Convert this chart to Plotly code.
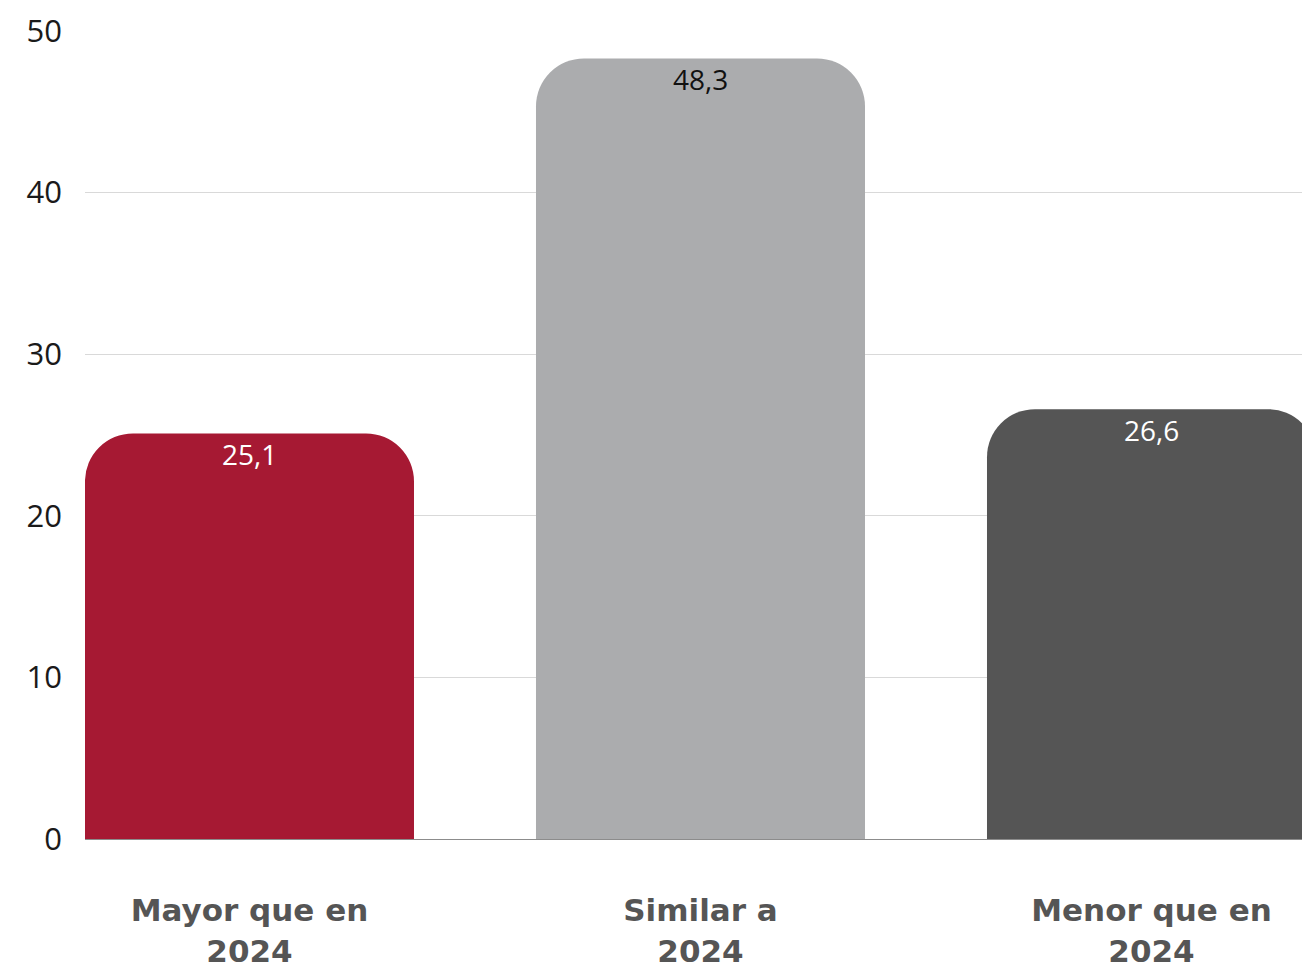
import plotly.graph_objects as go

categories = ["Mayor que en<br>2024", "Similar a<br>2024", "Menor que en<br>2024"]
values = [25.1, 48.3, 26.6]
value_labels = ["25,1", "48,3", "26,6"]
bar_colors = ["#A61933", "#ABACAE", "#555555"]
label_colors = ["#FFFFFF", "#111111", "#FFFFFF"]
y_ticks = [0, 10, 20, 30, 40, 50]

fig = go.Figure(
    go.Bar(
        x=categories,
        y=values,
        width=0.7295,
        marker=dict(color=bar_colors, line=dict(width=0)),
        hoverinfo="skip",
    )
)

for cat, val, lab, col in zip(categories, values, value_labels, label_colors):
    fig.add_annotation(
        x=cat,
        y=val,
        text=lab,
        showarrow=False,
        yanchor="top",
        xanchor="center",
        yshift=0,
        font=dict(family="Open Sans", size=28, color=col),
    )

fig.update_layout(
    width=1294,
    height=959,
    margin=dict(l=77, r=0, t=23, b=128),
    paper_bgcolor="white",
    plot_bgcolor="white",
    showlegend=False,
    barcornerradius=48,
)

fig.update_xaxes(
    range=[-0.3647, 2.3337],
    automargin=False,
    showgrid=False,
    showline=True,
    linecolor="#8C8C8C",
    linewidth=1,
    layer="below traces",
    ticks="",
    ticklabelstandoff=44,
    tickfont=dict(family="DejaVu Sans", size=31, color="#555555", weight="bold"),
)

fig.update_yaxes(
    range=[0, 50],
    automargin=False,
    tickvals=y_ticks,
    ticktext=[str(v) for v in y_ticks],
    showgrid=True,
    gridcolor="#D9D9D9",
    gridwidth=1,
    zeroline=False,
    showline=False,
    ticks="",
    ticklabelstandoff=22,
    tickfont=dict(family="Open Sans", size=31, color="#1A1A1A"),
)

fig.write_html("out.html")
